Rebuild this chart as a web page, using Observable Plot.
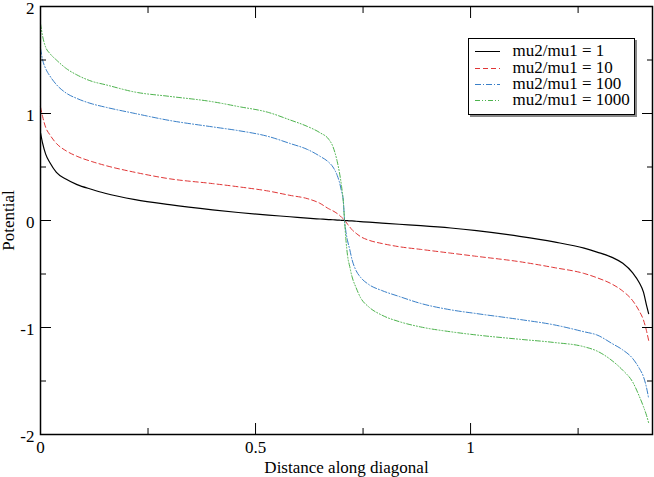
<!DOCTYPE html>
<html><head><meta charset="utf-8">
<script src="https://cdn.jsdelivr.net/npm/d3@7"></script>
<script src="https://cdn.jsdelivr.net/npm/@observablehq/plot@0.6"></script>
<style>
body{margin:0;background:#fff;}
#wrap{position:relative;width:654px;height:477px;}
#legend{position:absolute;left:467.5px;top:37.5px;width:165px;height:75px;border:1px solid #000;box-shadow:2px 2px 0 #888;background:#fff;font-family:"Liberation Serif","Times New Roman",serif;font-size:17px;color:#000;}
.row{position:absolute;left:0;width:165px;height:16px;line-height:16px;white-space:nowrap;}
.row svg{position:absolute;left:0;top:0;}
.row span{position:absolute;left:44px;top:0;font-family:"Liberation Serif","Times New Roman",serif;font-size:17px;line-height:16px;}
</style></head><body><div id="wrap"></div>
<script>
// distance along diagonal
const xs = [0, 0.005, 0.012, 0.022, 0.037, 0.06, 0.085, 0.12, 0.15, 0.22, 0.3, 0.4, 0.46, 0.53, 0.58, 0.62, 0.65, 0.67, 0.68, 0.69, 0.695, 0.70, 0.704, 0.707,
  0.710, 0.714, 0.719, 0.724, 0.734, 0.744, 0.764, 0.794, 0.834, 0.884, 0.954, 1.014, 1.114, 1.194, 1.264, 1.294, 1.329, 1.354, 1.377, 1.392, 1.402, 1.409, 1.414];
// potential, mu2/mu1 = 1
const mu1 = [0.82, 0.72, 0.62, 0.54, 0.45, 0.385, 0.335, 0.29, 0.255, 0.195, 0.148, 0.10, 0.075, 0.05, 0.035, 0.022, 0.014, 0.009, 0.007, 0.004, 0.003, 0.002, 0.001, 0,
  -0.001, -0.002, -0.003, -0.004, -0.007, -0.010, -0.016, -0.024, -0.035, -0.048, -0.07, -0.095, -0.148, -0.2, -0.258, -0.295, -0.345, -0.40, -0.49, -0.58, -0.67, -0.79, -0.87];
// potential, mu2/mu1 = 10
const mu10 = [1.06, 0.97, 0.87, 0.80, 0.72, 0.65, 0.60, 0.55, 0.515, 0.45, 0.39, 0.345, 0.315, 0.275, 0.235, 0.205, 0.16, 0.11, 0.09, 0.065, 0.05, 0.03, 0.015, 0,
  -0.012, -0.035, -0.06, -0.085, -0.12, -0.15, -0.185, -0.215, -0.245, -0.27, -0.305, -0.335, -0.385, -0.44, -0.495, -0.535, -0.595, -0.66, -0.75, -0.845, -0.93, -1.03, -1.12];
// potential, mu2/mu1 = 100
const mu100 = [1.61, 1.50, 1.42, 1.35, 1.27, 1.19, 1.14, 1.09, 1.06, 1.0, 0.935, 0.875, 0.84, 0.785, 0.72, 0.665, 0.60, 0.545, 0.50, 0.42, 0.36, 0.27, 0.19, 0,
  -0.10, -0.19, -0.27, -0.36, -0.47, -0.53, -0.60, -0.655, -0.71, -0.775, -0.835, -0.87, -0.925, -0.975, -1.04, -1.07, -1.15, -1.21, -1.29, -1.38, -1.46, -1.56, -1.66];
// potential, mu2/mu1 = 1000
const mu1000 = [1.84, 1.72, 1.62, 1.56, 1.50, 1.42, 1.36, 1.30, 1.27, 1.20, 1.16, 1.11, 1.065, 1.01, 0.94, 0.88, 0.82, 0.76, 0.69, 0.55, 0.45, 0.32, 0.18, 0,
  -0.17, -0.33, -0.43, -0.52, -0.63, -0.72, -0.81, -0.885, -0.945, -0.995, -1.04, -1.07, -1.11, -1.14, -1.18, -1.22, -1.31, -1.40, -1.51, -1.64, -1.74, -1.82, -1.89];

const seriesLabels = ["mu2/mu1 = 1", "mu2/mu1 = 10", "mu2/mu1 = 100", "mu2/mu1 = 1000"];
const xMajor = [0, 0.5, 1];
const xMinor = [0.25, 0.75, 1.25];
const yMajor = [-2, -1, 0, 1, 2];
const yMinor = [-1.5, -0.5, 0.5, 1.5];

const series = [mu1, mu10, mu100, mu1000];
const colors = ["#000000", "#e03535", "#3a80c8", "#4db34d"];
const dashes = [null, "5,3", "6,2,1,2", "5,2,1,2,1,2"];
const widths = [1.2, 1, 1, 1];

const lineMarks = series.map((ys, k) =>
  Plot.line(xs.map((x, i) => ({x, y: ys[i]})), {
    x: "x", y: "y", stroke: colors[k], strokeWidth: widths[k],
    strokeDasharray: dashes[k], curve: "monotone-x"
  })
);

const tickOpts = {stroke: "black", strokeWidth: 1, fill: "none", label: null};

const chart = Plot.plot({
  width: 654, height: 477,
  marginLeft: 40, marginRight: 2, marginTop: 6, marginBottom: 43,
  style: {fontFamily: "Liberation Serif", fontSize: "17px", background: "white", color: "black", overflow: "visible"},
  x: {domain: [0, 1.423]},
  y: {domain: [-2, 2]},
  marks: [
    ...lineMarks,
    Plot.axisX(xMajor, {anchor: "bottom", tickSize: -11, ...tickOpts}),
    Plot.axisX(xMinor, {anchor: "bottom", tickSize: -6, ...tickOpts}),
    Plot.axisX(xMajor, {anchor: "top", tickSize: -11, ...tickOpts}),
    Plot.axisX(xMinor, {anchor: "top", tickSize: -6, ...tickOpts}),
    Plot.axisY(yMajor, {anchor: "left", tickSize: -11, ...tickOpts}),
    Plot.axisY(yMinor, {anchor: "left", tickSize: -6, ...tickOpts}),
    Plot.axisY(yMajor, {anchor: "right", tickSize: -11, ...tickOpts}),
    Plot.axisY(yMinor, {anchor: "right", tickSize: -6, ...tickOpts}),
    Plot.axisX(xMajor, {anchor: "bottom", tickSize: 0, tickPadding: 6, tickFormat: d => String(d),
      label: "Distance along diagonal", labelAnchor: "center", labelOffset: 38, labelArrow: "none"}),
    Plot.axisY(yMajor, {anchor: "left", tickSize: 0, tickPadding: 6, dy: 2, tickFormat: d => String(d),
      label: "Potential", labelAnchor: "center", labelOffset: 39, labelArrow: "none"}),
    Plot.frame({stroke: "black", strokeWidth: 1.5})
  ]
});

const wrap = document.getElementById("wrap");
wrap.appendChild(chart);

const legend = document.createElement("div");
legend.id = "legend";
seriesLabels.forEach((lab, k) => {
  const row = document.createElement("div");
  row.className = "row";
  row.style.top = (4.7 + 16.3 * k) + "px";
  row.innerHTML = `<svg width="40" height="16"><line x1="6" x2="31" y1="8.5" y2="8.5" stroke="${colors[k]}" stroke-width="1" ${dashes[k] ? `stroke-dasharray="${dashes[k]}"` : ""}/></svg><span>${lab}</span>`;
  legend.appendChild(row);
});
wrap.appendChild(legend);
</script></body></html>
